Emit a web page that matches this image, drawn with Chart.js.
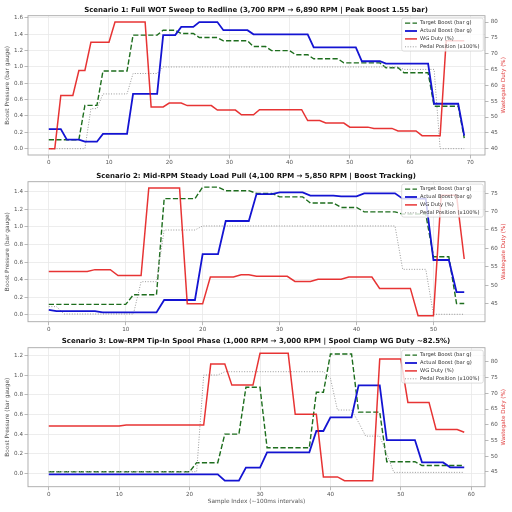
<!DOCTYPE html>
<html>
<head>
<meta charset="utf-8">
<script src="https://cdn.jsdelivr.net/npm/chart.js@4.4.1/dist/chart.umd.min.js"></script>
<style>
  html, body { margin: 0; padding: 0; background: #fff; }
  #wrap { position: relative; width: 512px; height: 512px; }
  canvas { position: absolute; left: 0; }
</style>
</head>
<body>
<div id="wrap">
  <canvas id="scenario1" width="512" height="170" style="top:0px"></canvas>
  <canvas id="scenario2" width="512" height="165" style="top:170px"></canvas>
  <canvas id="scenario3" width="512" height="177" style="top:335px"></canvas>
</div>
<script>
// ---- data ----
// scenario 1: full WOT sweep (samples 0..69)
var samples1 = [0,1,2,3,4,5,6,7,8,9,10,11,12,13,14,15,16,17,18,19,20,21,22,23,24,25,26,27,28,29,30,31,32,33,34,35,36,37,38,39,40,41,42,43,44,45,46,47,48,49,50,51,52,53,54,55,56,57,58,59,60,61,62,63,64,65,66,67,68,69];
var target1 = [0.11,0.11,0.11,0.11,0.11,0.11,0.53,0.53,0.53,0.95,0.95,0.95,0.95,0.95,1.39,1.39,1.39,1.39,1.39,1.45,1.45,1.45,1.41,1.41,1.41,1.36,1.36,1.36,1.36,1.32,1.32,1.32,1.32,1.32,1.25,1.25,1.25,1.20,1.20,1.20,1.20,1.15,1.15,1.15,1.10,1.10,1.10,1.10,1.10,1.05,1.05,1.05,1.05,1.05,1.05,1.05,0.99,0.99,0.99,0.93,0.93,0.93,0.93,0.93,0.52,0.52,0.52,0.52,0.52,0.13];
var actual1 = [0.24,0.24,0.24,0.11,0.11,0.11,0.085,0.085,0.085,0.18,0.18,0.18,0.18,0.18,0.67,0.67,0.67,0.67,0.67,1.39,1.39,1.39,1.49,1.49,1.49,1.55,1.55,1.55,1.55,1.45,1.45,1.45,1.45,1.45,1.40,1.40,1.40,1.40,1.40,1.40,1.40,1.40,1.40,1.40,1.24,1.24,1.24,1.24,1.24,1.24,1.24,1.24,1.07,1.07,1.07,1.07,1.04,1.04,1.04,1.04,1.04,1.04,1.04,1.04,0.55,0.55,0.55,0.55,0.55,0.16];
var wg1 = [40,40,56.8,56.8,56.8,64.7,64.7,73.6,73.6,73.6,73.6,80,80,80,80,80,80,53.2,53.2,53.2,54.4,54.4,54.4,53.6,53.6,53.6,53.6,53.6,52.2,52.2,52.2,52.2,50.7,50.7,50.7,52.3,52.3,52.3,52.3,52.3,52.3,52.3,52.3,48.9,48.9,48.9,48.1,48.1,48.1,48.1,46.8,46.8,46.8,46.8,46.4,46.4,46.4,46.4,45.6,45.6,45.6,45.6,44.1,44.1,44.1,44.1,74.1,74.1,74.1,74.1];
var pedal1 = [0,0,0,0,0,0,0,0.49,0.49,0.67,0.67,0.67,0.67,0.67,0.92,0.92,0.92,0.92,0.92,1,1,1,1,1,1,1,1,1,1,1,1,1,1,1,1,1,1,1,1,1,1,1,1,1,1,1,1,1,1,1,1,1,1,1,1,1,1,1,1,0.97,0.97,0.97,0.97,0.97,0.97,0,0,0,0,0];

// scenario 2: mid-RPM load pull (samples 0..54)
var samples2 = [0,1,2,3,4,5,6,7,8,9,10,11,12,13,14,15,16,17,18,19,20,21,22,23,24,25,26,27,28,29,30,31,32,33,34,35,36,37,38,39,40,41,42,43,44,45,46,47,48,49,50,51,52,53,54];
var target2 = [0.12,0.12,0.12,0.12,0.12,0.12,0.12,0.12,0.12,0.12,0.12,0.23,0.23,0.23,0.23,1.32,1.32,1.32,1.32,1.32,1.45,1.45,1.45,1.41,1.41,1.41,1.41,1.38,1.38,1.38,1.34,1.34,1.34,1.34,1.27,1.27,1.27,1.27,1.22,1.22,1.22,1.17,1.17,1.17,1.17,1.17,1.145,1.145,1.145,1.145,0.66,0.66,0.66,0.13,0.13];
var actual2 = [0.057,0.045,0.045,0.045,0.045,0.045,0.045,0.03,0.03,0.03,0.03,0.03,0.03,0.03,0.03,0.17,0.17,0.17,0.17,0.17,0.69,0.69,0.69,1.066,1.066,1.066,1.066,1.372,1.372,1.372,1.391,1.391,1.391,1.391,1.355,1.355,1.355,1.355,1.345,1.345,1.345,1.38,1.38,1.38,1.38,1.38,1.32,1.32,1.32,1.32,0.624,0.624,0.624,0.26,0.26];
var wg2 = [53.7,53.7,53.7,53.7,53.7,53.7,54.2,54.2,54.2,52.6,52.6,52.6,52.6,76.4,76.4,76.4,76.4,76.4,44.9,44.9,44.9,52.2,52.2,52.2,52.2,52.8,52.8,52.4,52.4,52.4,52.4,52.4,51.0,51.0,51.0,51.6,51.6,51.6,51.6,52.2,52.2,52.2,52.2,49.1,49.1,49.1,49.1,49.1,41.7,41.7,41.7,74.4,74.4,74.4,57.1];
var pedal2 = [0.095,0.095,0.011,0.011,0.011,0.011,0.011,0.011,0.011,0.011,0.011,0.011,0.378,0.378,0.378,0.964,0.964,0.964,0.964,0.964,1.01,1.01,1.01,1.01,1.01,1.01,1.01,1.01,1.01,1.01,1.01,1.01,1.01,1.01,1.01,1.01,1.01,1.01,1.01,1.01,1.01,1.01,1.01,1.01,1.01,1.01,0.518,0.518,0.518,0.518,0.008,0.008,0.008,0.008,0.008];

// scenario 3: low-RPM tip-in spool (samples 0..59)
var samples3 = [0,1,2,3,4,5,6,7,8,9,10,11,12,13,14,15,16,17,18,19,20,21,22,23,24,25,26,27,28,29,30,31,32,33,34,35,36,37,38,39,40,41,42,43,44,45,46,47,48,49,50,51,52,53,54,55,56,57,58,59];
var target3 = [0.017,0.017,0.017,0.017,0.017,0.017,0.017,0.017,0.017,0.017,0.017,0.017,0.017,0.017,0.017,0.017,0.017,0.017,0.017,0.017,0.017,0.109,0.109,0.109,0.109,0.40,0.40,0.40,0.878,0.878,0.878,0.262,0.262,0.262,0.262,0.262,0.262,0.262,0.827,0.827,1.218,1.218,1.218,1.218,0.625,0.625,0.625,0.625,0.119,0.119,0.119,0.119,0.119,0.08,0.08,0.08,0.08,0.08,0.08,0.08];
var actual3 = [-0.01,-0.01,-0.01,-0.01,-0.01,-0.01,-0.01,-0.01,-0.01,-0.01,-0.01,-0.01,-0.01,-0.01,-0.01,-0.01,-0.01,-0.01,-0.01,-0.01,-0.01,-0.01,-0.01,-0.01,-0.01,-0.075,-0.075,-0.075,0.058,0.058,0.058,0.214,0.214,0.214,0.214,0.214,0.214,0.214,0.432,0.432,0.572,0.572,0.572,0.572,0.898,0.898,0.898,0.898,0.34,0.34,0.34,0.34,0.34,0.112,0.112,0.112,0.112,0.062,0.062,0.062];
var wg3 = [59.6,59.6,59.6,59.6,59.6,59.6,59.6,59.6,59.6,59.6,59.6,59.9,59.9,59.9,59.9,59.9,59.9,59.9,59.9,59.9,59.9,59.9,59.9,79.3,79.3,79.3,72.6,72.6,72.6,72.6,82.7,82.7,82.7,82.7,82.7,63.3,63.3,63.3,63.3,43.4,43.4,43.4,42.2,42.2,42.2,42.2,42.2,80.9,80.9,80.9,80.9,67.1,67.1,67.1,67.1,58.5,58.5,58.5,58.5,57.6];
var pedal3 = [0.017,0.017,0.017,0.017,0.017,0.017,0.017,0.017,0.017,0.017,0.017,0.017,0.017,0.017,0.017,0.017,0.017,0.017,0.017,0.017,0.017,0.017,1.003,1.003,1.003,1.037,1.037,1.037,1.037,1.037,1.037,1.037,1.037,1.037,1.037,1.037,1.037,1.037,1.037,1.037,0.97,0.646,0.646,0.646,0.52,0.38,0.38,0.38,0.2,0.01,0.01,0.01,0.01,0.01,0.01,0.01,0.01,0.01,0.01,0.01];

// tick labels
var xTicks1 = [0,10,20,30,40,50,60,70];
var xTicks2 = [0,10,20,30,40,50];
var xTicks3 = [0,10,20,30,40,50,60];
var boostTicks1 = [0,0.2,0.4,0.6,0.8,1.0,1.2,1.4,1.6];
var boostTicks2 = [0,0.2,0.4,0.6,0.8,1.0,1.2,1.4];
var boostTicks3 = [0,0.2,0.4,0.6,0.8,1.0,1.2];
var dutyTicks1 = [40,45,50,55,60,65,70,75,80];
var dutyTicks2 = [45,50,55,60,65,70,75];
var dutyTicks3 = [45,50,55,60,65,70,75,80];

var titles = [
  'Scenario 1: Full WOT Sweep to Redline (3,700 RPM \u2192 6,890 RPM | Peak Boost 1.55 bar)',
  'Scenario 2: Mid-RPM Steady Load Pull (4,100 RPM \u2192 5,850 RPM | Boost Tracking)',
  'Scenario 3: Low-RPM Tip-In Spool Phase (1,000 RPM \u2192 3,000 RPM | Spool Clamp WG Duty ~82.5%)'
];

// ---- styling ----
var GREEN = '#1e6e1e', BLUE = '#1414d2', RED = 'rgba(228,24,24,0.88)', GRAY = '#9a9a9a';
var GRID = '#e8e8e8', FRAME = '#a8a8a8', TICK = '#555555';
var FONT = '"DejaVu Sans", sans-serif';

Chart.defaults.font.family = FONT;
Chart.defaults.devicePixelRatio = 1;

function fixTicks(values) {
  return function (axis) { axis.ticks = values.map(function (v) { return { value: v }; }); };
}

// frame, right-hand title and an in-plot legend (matplotlib style)
var panelDecor = {
  id: 'panelDecor',
  afterDatasetsDraw: function (chart) {
    var c = chart.ctx, a = chart.chartArea;
    c.save();
    c.strokeStyle = FRAME;
    c.lineWidth = 0.9;
    c.strokeRect(a.left, a.top, a.right - a.left, a.bottom - a.top);

    c.save();
    c.translate(a.right + 19, (a.top + a.bottom) / 2);
    c.rotate(-Math.PI / 2);
    c.fillStyle = '#e03c3c';
    c.font = '5.6px ' + FONT;
    c.textAlign = 'center';
    c.textBaseline = 'middle';
    c.fillText('Wastegate Duty (%)', 0, 0);
    c.restore();

    var w = 81.6, h = 33, bx = a.right - w - 1.7, by = a.top + 2.4;
    c.fillStyle = 'rgba(255,255,255,0.8)';
    c.strokeStyle = '#d4d4d4';
    c.lineWidth = 0.8;
    c.beginPath();
    c.roundRect(bx, by, w, h, 2);
    c.fill();
    c.stroke();
    c.font = '5.2px ' + FONT;
    c.textBaseline = 'middle';
    c.textAlign = 'left';
    chart.data.datasets.forEach(function (ds, i) {
      var ly = by + 5 + i * 7.9;
      c.strokeStyle = ds.borderColor;
      c.lineWidth = ds.borderWidth;
      c.setLineDash(ds.borderDash || []);
      c.beginPath();
      c.moveTo(bx + 3.3, ly);
      c.lineTo(bx + 15.3, ly);
      c.stroke();
      c.setLineDash([]);
      c.fillStyle = '#333333';
      c.fillText(ds.label, bx + 18.3, ly);
    });
    c.restore();
  }
};

function drawScenario(id, p) {
  var ctx = document.getElementById(id).getContext('2d');
  return new Chart(ctx, {
    type: 'line',
    data: {
      labels: p.samples,
      datasets: [
        { label: 'Target Boost (bar g)', data: p.target, yAxisID: 'y', borderColor: GREEN, borderWidth: 1.4, borderDash: [5.2, 2.3], order: 3 },
        { label: 'Actual Boost (bar g)', data: p.actual, yAxisID: 'y', borderColor: BLUE, borderWidth: 1.8, order: 1 },
        { label: 'WG Duty (%)', data: p.wg, yAxisID: 'y1', borderColor: RED, borderWidth: 1.5, order: 0 },
        { label: 'Pedal Position (x100%)', data: p.pedal, yAxisID: 'y', borderColor: GRAY, borderWidth: 1, borderDash: [1, 1.6], order: 2 }
      ]
    },
    options: {
      responsive: false,
      animation: false,
      events: [],
      elements: { point: { radius: 0 }, line: { tension: 0, fill: false } },
      layout: { padding: 0 },
      plugins: {
        legend: { display: false },
        tooltip: { enabled: false },
        title: {
          display: true,
          text: p.title,
          color: '#111111',
          font: { size: 7, weight: 'bold', lineHeight: 1.2 },
          padding: { top: p.titleTop, bottom: p.titleBottom }
        }
      },
      scales: {
        x: {
          type: 'linear',
          min: p.xMin,
          max: p.xMax,
          afterBuildTicks: fixTicks(p.xTicks),
          afterFit: function (s) { s.height = p.xHeight; },
          grid: { color: GRID, lineWidth: 0.8, drawTicks: true, tickLength: 3.5, tickColor: FRAME, tickWidth: 0.8 },
          border: { display: false },
          ticks: { color: TICK, font: { size: 5.6 }, padding: 0.6, callback: function (v) { return String(v); } },
          title: { display: !!p.xTitle, text: p.xTitle || '', color: TICK, font: { size: 5.8 }, padding: { top: 0, bottom: 7.5 } }
        },
        y: {
          position: 'left',
          min: p.yMin,
          max: p.yMax,
          afterBuildTicks: fixTicks(p.boostTicks),
          afterFit: function (s) { s.width = 28; },
          grid: { color: GRID, lineWidth: 0.8, drawTicks: true, tickLength: 3.5, tickColor: FRAME, tickWidth: 0.8 },
          border: { display: false },
          ticks: { color: TICK, font: { size: 5.6 }, padding: 1.5, callback: function (v) { return v.toFixed(1); } },
          title: { display: true, text: 'Boost Pressure (bar gauge)', color: TICK, font: { size: 5.8 }, padding: { top: 4.5, bottom: 0 } }
        },
        y1: {
          position: 'right',
          min: p.dMin,
          max: p.dMax,
          afterBuildTicks: fixTicks(p.dutyTicks),
          afterFit: function (s) { s.width = 27; },
          grid: { drawOnChartArea: false, drawTicks: true, tickLength: 3.5, tickColor: FRAME, tickWidth: 0.8 },
          border: { display: false },
          ticks: { color: TICK, font: { size: 5.6 }, padding: 2.2, callback: function (v) { return String(v); } }
        }
      }
    },
    plugins: [panelDecor]
  });
}

drawScenario('scenario1', {
  title: titles[0], titleTop: 5.5, titleBottom: 1.8,
  samples: samples1, target: target1, actual: actual1, wg: wg1, pedal: pedal1,
  xMin: -3.45, xMax: 72.45, xTicks: xTicks1, xHeight: 15,
  yMin: -0.0775, yMax: 1.6275, boostTicks: boostTicks1,
  dMin: 38, dMax: 82, dutyTicks: dutyTicks1
});

drawScenario('scenario2', {
  title: titles[1], titleTop: 1.5, titleBottom: 1.8,
  samples: samples2, target: target2, actual: actual2, wg: wg2, pedal: pedal2,
  xMin: -2.7, xMax: 56.7, xTicks: xTicks2, xHeight: 13.3,
  yMin: -0.076, yMax: 1.512, boostTicks: boostTicks2,
  dMin: 40.05, dMax: 78.1, dutyTicks: dutyTicks2
});

drawScenario('scenario3', {
  title: titles[2], titleTop: 2.3, titleBottom: 2.0,
  samples: samples3, target: target3, actual: actual3, wg: wg3, pedal: pedal3,
  xMin: -2.95, xMax: 61.95, xTicks: xTicks3, xHeight: 25.3,
  xTitle: 'Sample Index (~100ms intervals)',
  yMin: -0.136, yMax: 1.282, boostTicks: boostTicks3,
  dMin: 40.3, dMax: 84.5, dutyTicks: dutyTicks3
});
</script>
</body>
</html>
